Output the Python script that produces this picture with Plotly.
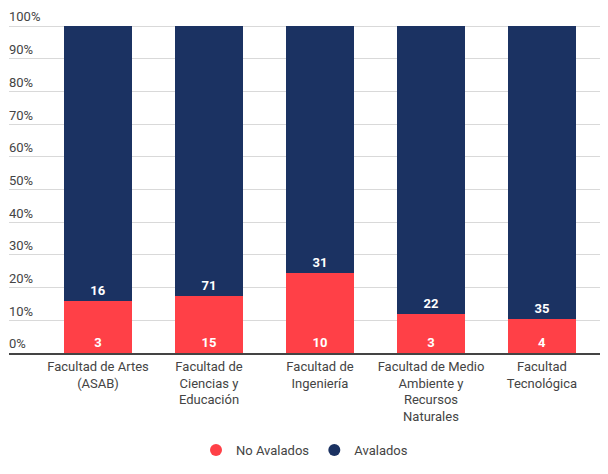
import plotly.graph_objects as go

categories = ["Facultad de Artes<br>(ASAB)", "Facultad de<br>Ciencias y<br>Educación", "Facultad de<br>Ingeniería",
              "Facultad de Medio<br>Ambiente y<br>Recursos<br>Naturales", "Facultad<br>Tecnológica"]
no_avalados = [3, 15, 10, 3, 4]
avalados = [16, 71, 31, 22, 35]
series_names = ["No Avalados", "Avalados"]
colors = ["#ff4047", "#1b3262"]
y_ticks = [0, 10, 20, 30, 40, 50, 60, 70, 80, 90, 100]
y_tick_labels = [f"{v}%" for v in y_ticks]

fig = go.Figure()
for name, vals, col in zip(series_names, [no_avalados, avalados], colors):
    fig.add_trace(go.Bar(
        x=categories, y=vals, name=name, marker_color=col, marker_line_width=0,
        text=vals, texttemplate="%{text}", textposition="inside", insidetextanchor="start",
        textfont=dict(family="Roboto", size=13, color="white", weight="bold"),
        constraintext="none", showlegend=False,
    ))
    fig.add_trace(go.Scatter(
        x=[None], y=[None], mode="markers", name=name,
        marker=dict(symbol="circle", size=18, color=col), showlegend=True,
    ))

fig.update_layout(
    width=608, height=474,
    margin=dict(l=9, r=8, t=0, b=121),
    barmode="stack", barnorm="percent", bargap=0.38,
    plot_bgcolor="white", paper_bgcolor="white",
    font=dict(family="Roboto", size=13, color="#444"),
    xaxis=dict(range=[-0.802, 4.523], showgrid=False, showline=True, linecolor="#444",
               linewidth=2, ticks="", tickfont=dict(size=13, color="#444"), fixedrange=True),
    yaxis=dict(range=[0, 107.95], tickmode="array", tickvals=y_ticks, ticktext=y_tick_labels,
               ticklabelposition="inside top", ticklabelstandoff=-3,
               gridcolor="#d9d9d9", gridwidth=1, zeroline=False, showline=False,
               tickfont=dict(size=13, color="#444")),
    legend=dict(orientation="h", x=0.5, xanchor="center", y=-0.275, yanchor="middle",
                traceorder="normal",
                font=dict(size=13, color="#444"), itemsizing="constant"),
)

fig.write_html("out.html")
